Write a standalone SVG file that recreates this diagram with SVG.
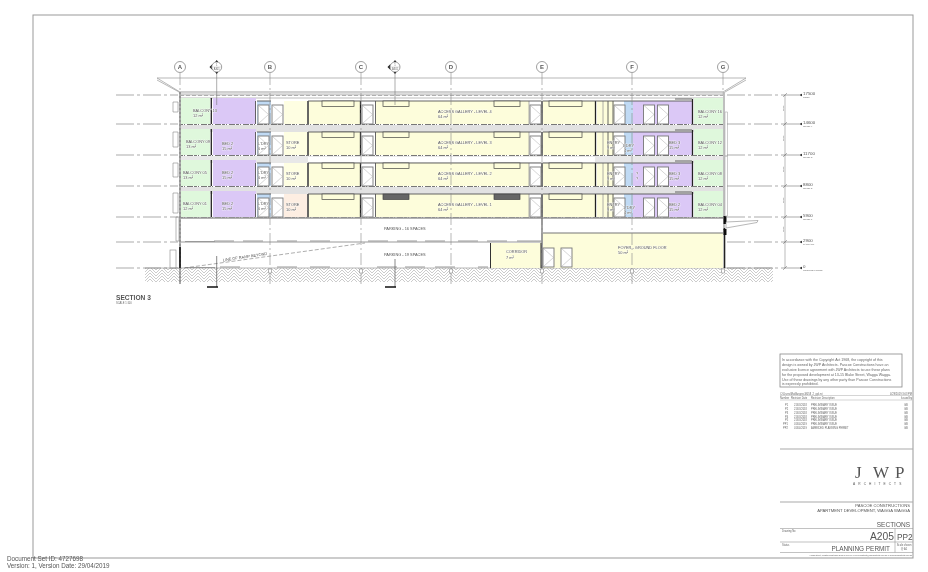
<svg xmlns="http://www.w3.org/2000/svg" xmlns:xlink="http://www.w3.org/1999/xlink" width="928" height="572" viewBox="0 0 928 572">
<style>
text{font-family:"Liberation Sans",Arial,sans-serif;fill:#555}
svg>g{filter:url(#soft)}
.r{font-size:3.9px;paint-order:stroke;stroke:#fff;stroke-width:.7px;stroke-opacity:.8}
.t{font-size:3.6px;fill:#666}
.s{font-size:2.6px;fill:#666}
.lv{font-size:4.4px;fill:#555}
.lv2{font-size:2.4px;fill:#666}
.ax{font-size:6px;font-weight:bold;text-anchor:middle;fill:#555}
.g{fill:#dff8dc}.p{fill:#dbc8f6}.y{fill:#fdfddb}.b{fill:#c0daf4}
.dr{fill:#fff;stroke:#777;stroke-width:.9}
.dx{fill:none;stroke:#aaa;stroke-width:.5}
.w{stroke:#555;stroke-width:.9;fill:none}
.wk{stroke:#222;stroke-width:1.3;fill:none}
.wl{stroke:#999;stroke-width:.8;fill:none}
.dd{stroke:#888;stroke-width:.7;fill:none;stroke-dasharray:18 3 3 3}
.gr{stroke:#888;stroke-width:.6;fill:none;stroke-dasharray:12 3 2 3}
.ln{stroke:#aaa;stroke-width:1.2;fill:none}
.win{fill:#fdfddb;stroke:#444;stroke-width:.7}
.windk{fill:#666;stroke:#444;stroke-width:.7}
.bub{fill:#fff;stroke:#777;stroke-width:.7}
.ar{fill:#333}
</style>
<defs>
<filter id="soft" x="0" y="0" width="100%" height="100%" filterUnits="userSpaceOnUse" primitiveUnits="userSpaceOnUse"><feGaussianBlur stdDeviation=".3"/></filter>
<pattern id="hatch" width="12" height="6" patternUnits="userSpaceOnUse">
<path d="M0 3L3 0M0 6L6 0M3 6L6 3M6 0L12 6M9 0L12 3M6 3L9 6" stroke="#aaa" stroke-width=".6" fill="none"/>
</pattern>
<g id="door"><rect class="dr" x="0" y="0" width="11" height="19"/><path class="dx" d="M.5 .5L10.5 9.5L.5 18.5"/></g>
<g id="level">
<rect class="g" x="181" y="98" width="29" height="26"/>
<rect class="p" x="213" y="98" width="43" height="26"/>
<rect class="b" x="257" y="101" width="14" height="23"/>
<rect class="y" x="308" y="101" width="53" height="23"/>
<rect class="y" x="376" y="101" width="153" height="23"/>
<rect class="y" x="543" y="101" width="52" height="23"/>
<rect class="y" x="597" y="101" width="17" height="23"/>
<rect class="b" x="624" y="101" width="9" height="23"/>
<rect class="p" x="633" y="101" width="59" height="23"/>
<rect class="g" x="694" y="98" width="29" height="26"/>
<path class="wk" d="M211.300 98V124M360.500 101V124M542 101V124M595.500 101V124M692.500 99V124"/>
<path class="w" d="M255.500 101V124M307.500 101V124M308.500 101V124M375.500 101V124M608 101V124M613 101V124"/>
<path class="wl" d="M529 101V124M603 101V124"/>
<path class="w" d="M308 101H541M543 101H692M257 101H271"/>
<use xlink:href="#door" x="258" y="105"/>
<use xlink:href="#door" x="272" y="105"/>
<use xlink:href="#door" x="362" y="105"/>
<use xlink:href="#door" x="530" y="105"/>
<use xlink:href="#door" x="614" y="105"/>
<use xlink:href="#door" x="643.500" y="105"/>
<use xlink:href="#door" x="657.500" y="105"/>
<rect class="win" x="322" y="101" width="32" height="5.500"/>
<rect class="win" x="549" y="101" width="33" height="5.500"/>
<path d="M675 99H692" class="w"/>
<path d="M180 124.500H723" stroke="#777" stroke-width="1" stroke-dasharray="3 1 1 2 6 1" fill="none"/>
</g>
</defs>

<rect x="33" y="15" width="880" height="543" fill="#fff" stroke="#999" stroke-width="1"/>

<g id="ground">
<rect x="145" y="268" width="628" height="14" fill="url(#hatch)"/>
<path d="M145 268H773" stroke="#888" stroke-width=".6"/>
</g>

<g id="roof">
<path d="M157 78H746L723 92H180Z" fill="#fff" stroke="#999" stroke-width=".7"/>
<path d="M157 80L179 92M746 80L725 92" stroke="#999" stroke-width=".7" fill="none"/>
<rect x="180" y="92" width="543" height="3" fill="#ddd" stroke="#aaa" stroke-width=".5"/>
<path d="M180 95.500H723" stroke="#888" stroke-width=".6" stroke-dasharray="4 2"/>
<path d="M180 98H723" stroke="#aaa" stroke-width=".8"/>
</g>

<g id="slabs">
<rect x="181" y="125" width="542" height="7" fill="#e2e2e2"/>
<rect x="181" y="156" width="542" height="7" fill="#e8e8e8"/>
<rect x="308" y="157" width="287" height="5" fill="#fff"/>
<rect x="181" y="187" width="542" height="7" fill="#e2e2e2"/>
</g>

<g id="levels">
<use xlink:href="#level"/>
<use xlink:href="#level" y="31"/>
<use xlink:href="#level" y="62"/>
<use xlink:href="#level" y="93"/>
<rect x="284" y="101" width="23" height="23" fill="#fefee2"/>
<rect x="284" y="132" width="23" height="23" fill="#fefee2"/>
<rect x="284" y="163" width="23" height="23" fill="#fefee2"/>
<rect x="284" y="194" width="23" height="23" fill="#fdeee2"/>
<rect x="383" y="194" width="26" height="5.500" class="windk"/>
<rect x="494" y="194" width="26" height="5.500" class="windk"/>
<rect x="383" y="101" width="26" height="5.500" class="win"/>
<rect x="494" y="101" width="26" height="5.500" class="win"/>
<rect x="383" y="132" width="26" height="5.500" class="win"/>
<rect x="494" y="132" width="26" height="5.500" class="win"/>
<rect x="383" y="163" width="26" height="5.500" class="win"/>
<rect x="494" y="163" width="26" height="5.500" class="win"/>
<path d="M180 218H723" stroke="#999" stroke-width="1.500"/>
</g>

<g id="lower">
<rect x="543" y="233" width="180" height="35" class="y"/>
<rect x="491" y="243" width="50" height="25" class="y"/>
<path d="M543 233H723" stroke="#777" stroke-width="1.200"/>
<path d="M181 242H541" stroke="#999" stroke-width="1.200"/>
<path d="M542 218V268" stroke="#666" stroke-width="1.200"/>
<path d="M490.500 243V268" stroke="#333" stroke-width="1"/>
<path d="M541 243V268" stroke="#222" stroke-width="1"/>
<path d="M185 241.500h30M214 241h20M243 241h20M277 241h20M310 241h20M368 241h20M397 241h20M425 241h20M458 241h20M487 241h20M517 241h24M185 267.500h30M220 267h20M277 267h20M310 267h20M377 267h20M405 267h20M435 267h20M478 267h10" stroke="#999" stroke-width="1.200" fill="none"/>
<use xlink:href="#door" x="543" y="248"/>
<use xlink:href="#door" x="561" y="248"/>
<path d="M184 268L365 243" stroke="#777" stroke-width=".6" stroke-dasharray="4 2" fill="none"/>
<path d="M180 92V284" stroke="#aaa" stroke-width="2"/>
<path d="M180 92V284" stroke="#666" stroke-width=".6" stroke-dasharray="2 2"/>
<path d="M180 247V268" stroke="#111" stroke-width="1.600"/>
<path d="M724 92V230" stroke="#aaa" stroke-width="1.500"/>
<path d="M724.500 228V268" stroke="#222" stroke-width="1.600"/>
<path d="M725 216V224M725 229V235" stroke="#111" stroke-width="3"/>
<path d="M726 222L758 220.500L757 222.500L726 228Z" fill="#fff" stroke="#888" stroke-width=".6"/>
<rect x="170" y="250" width="6" height="18" fill="#fff" stroke="#888" stroke-width=".6"/>
<path d="M173 102h5v10h-5zM173 132h5v15h-5zM173 163h5v14h-5zM173 193h5v20h-5zM176 217h3v24h-3z" fill="#fff" stroke="#888" stroke-width=".6"/>
<path d="M725 112h2.500v44h-2.500zM725 156h2.500v60h-2.500z" fill="#fff" stroke="#aaa" stroke-width=".6"/>
</g>

<g id="levelLines">
<path class="dd" d="M116 95H178M116 124H178M116 155H178M116 186H178M116 217H178M116 242H178M116 268H178"/>
<path class="dd" d="M727 95H800M727 124H800M727 155H800M727 186H800M727 217H800M727 242H800M727 268H800"/>
<path d="M785 95V268" stroke="#777" stroke-width=".5"/>
<path d="M783 97l4-4M783 126l4-4M783 157l4-4M783 188l4-4M783 219l4-4M783 244l4-4M783 270l4-4" stroke="#444" stroke-width=".4"/>
<g class="ar">
<path d="M800 95l3-1.300v2.600zM800 124l3-1.300v2.600zM800 155l3-1.300v2.600zM800 186l3-1.300v2.600zM800 217l3-1.300v2.600zM800 242l3-1.300v2.600zM800 268l3-1.300v2.600z" transform="translate(-1 0)"/>
</g>
<text class="lv" x="803" y="95">17500</text><text class="lv2" x="803" y="98">ROOF</text>
<text class="lv" x="803" y="124">14600</text><text class="lv2" x="803" y="127">LEVEL 4</text>
<text class="lv" x="803" y="155">11700</text><text class="lv2" x="803" y="158">LEVEL 3</text>
<text class="lv" x="803" y="186">8800</text><text class="lv2" x="803" y="189">LEVEL 2</text>
<text class="lv" x="803" y="217">5900</text><text class="lv2" x="803" y="220">LEVEL 1</text>
<text class="lv" x="803" y="242">2900</text><text class="lv2" x="803" y="245">CARPARK</text>
<text class="lv" x="803" y="268">0</text><text class="lv2" x="803" y="271">GROUND FLOOR</text>
<text class="lv2" transform="translate(784 111) rotate(-90)">2900</text>
<text class="lv2" transform="translate(784 141) rotate(-90)">2900</text>
<text class="lv2" transform="translate(784 172) rotate(-90)">2900</text>
<text class="lv2" transform="translate(784 203) rotate(-90)">2900</text>
<text class="lv2" transform="translate(784 232) rotate(-90)">3000</text>
</g>

<g id="grids">
<path class="gr" d="M180 73V92M270 73V284M361 73V284M451 73V284M542 73V284M632 73V284M723 73V92"/>
<path d="M268.500 269h3v4h-3zM359.500 269h3v4h-3zM449.500 269h3v4h-3zM540.500 269h3v4h-3zM630.500 269h3v4h-3zM721.500 269h3v4h-3z" fill="#fff" stroke="#777" stroke-width=".5"/>
<g id="gridA"><circle class="bub" cx="180" cy="67" r="5.500"/><text class="ax" x="180" y="69.200">A</text></g>
<g id="gridB"><circle class="bub" cx="270" cy="67" r="5.500"/><text class="ax" x="270" y="69.200">B</text></g>
<g id="gridC"><circle class="bub" cx="361" cy="67" r="5.500"/><text class="ax" x="361" y="69.200">C</text></g>
<g id="gridD"><circle class="bub" cx="451" cy="67" r="5.500"/><text class="ax" x="451" y="69.200">D</text></g>
<g id="gridE"><circle class="bub" cx="542" cy="67" r="5.500"/><text class="ax" x="542" y="69.200">E</text></g>
<g id="gridF"><circle class="bub" cx="632" cy="67" r="5.500"/><text class="ax" x="632" y="69.200">F</text></g>
<g id="gridG"><circle class="bub" cx="723" cy="67" r="5.500"/><text class="ax" x="723" y="69.200">G</text></g>
</g>

<g id="sectionMarks">
<path d="M216.700 73V105M395 73V105" stroke="#777" stroke-width=".6"/>
<g id="mark1"><path d="M209.500 67l3-3v6zM216.700 60l1.500 2h-3zM216.700 74l1.500-2h-3z" fill="#222"/><circle class="bub" cx="216.700" cy="67" r="5"/><path d="M212 67H221.500" stroke="#999" stroke-width=".3"/><text class="s" x="216.700" y="65.500" text-anchor="middle">1</text><text class="s" x="216.700" y="70" text-anchor="middle">A301</text></g>
<g id="mark2"><path d="M387.500 67l3-3v6zM395 60l1.500 2h-3zM395 74l1.500-2h-3z" fill="#222"/><circle class="bub" cx="395" cy="67" r="5"/><path d="M390 67H400" stroke="#999" stroke-width=".3"/><text class="s" x="395" y="65.500" text-anchor="middle">1</text><text class="s" x="395" y="70" text-anchor="middle">A301</text></g>
<path d="M216.700 256V287M395 259V287" stroke="#555" stroke-width=".7"/>
<path d="M207 287H218M385 287H396" stroke="#111" stroke-width="1.500"/>
</g>

<g id="labels">
<text class="r" x="193" y="112">BALCONY 13</text><text class="r" x="193" y="117">12 m²</text>
<text class="r" x="186" y="143">BALCONY 09</text><text class="r" x="186" y="148">13 m²</text>
<text class="r" x="183" y="174">BALCONY 05</text><text class="r" x="183" y="179">13 m²</text>
<text class="r" x="183" y="205">BALCONY 01</text><text class="r" x="183" y="210">12 m²</text>
<text class="r" x="222" y="145">BED 2</text><text class="r" x="222" y="150">15 m²</text>
<text class="r" x="222" y="174">BED 2</text><text class="r" x="222" y="179">15 m²</text>
<text class="r" x="222" y="205">BED 2</text><text class="r" x="222" y="210">15 m²</text>
<text class="r" x="258" y="145">L'DRY</text><text class="r" x="258" y="150">6 m²</text>
<text class="r" x="258" y="174">L'DRY</text><text class="r" x="258" y="179">6 m²</text>
<text class="r" x="258" y="205">L'DRY</text><text class="r" x="258" y="210">6 m²</text>
<text class="r" x="286" y="144">STORE</text><text class="r" x="286" y="149">10 m²</text>
<text class="r" x="286" y="175">STORE</text><text class="r" x="286" y="180">10 m²</text>
<text class="r" x="286" y="206">STORE</text><text class="r" x="286" y="211">10 m²</text>
<text class="r" x="438" y="113">ACCESS GALLERY - LEVEL 4</text><text class="r" x="438" y="118">64 m²</text>
<text class="r" x="438" y="144">ACCESS GALLERY - LEVEL 3</text><text class="r" x="438" y="149">64 m²</text>
<text class="r" x="438" y="175">ACCESS GALLERY - LEVEL 2</text><text class="r" x="438" y="180">64 m²</text>
<text class="r" x="438" y="206">ACCESS GALLERY - LEVEL 1</text><text class="r" x="438" y="211">64 m²</text>
<text class="r" x="607" y="144">ENTRY</text><text class="r" x="607" y="149">9 m²</text>
<text class="r" x="607" y="175">ENTRY</text><text class="r" x="607" y="180">9 m²</text>
<text class="r" x="607" y="206">ENTRY</text><text class="r" x="607" y="211">9 m²</text>
<text class="r" x="623" y="147">L'DRY</text><text class="r" x="624" y="152">4 m²</text>
<text class="r" x="636" y="175">?</text><text class="r" x="636" y="180">?</text>
<text class="r" x="624" y="209">L'DRY</text><text class="r" x="624" y="214">4 m²</text>
<text class="r" x="669" y="144">BED 3</text><text class="r" x="669" y="149">15 m²</text>
<text class="r" x="669" y="175">BED 3</text><text class="r" x="669" y="180">15 m²</text>
<text class="r" x="669" y="206">BED 2</text><text class="r" x="669" y="211">15 m²</text>
<text class="r" x="698" y="113">BALCONY 16</text><text class="r" x="698" y="118">12 m²</text>
<text class="r" x="698" y="144">BALCONY 12</text><text class="r" x="698" y="149">12 m²</text>
<text class="r" x="698" y="175">BALCONY 08</text><text class="r" x="698" y="180">12 m²</text>
<text class="r" x="698" y="206">BALCONY 04</text><text class="r" x="698" y="211">12 m²</text>
<text class="r" x="384" y="230">PARKING - 16 SPACES</text>
<text class="r" x="384" y="255.500">PARKING - 19 SPACES</text>
<text class="r" x="506" y="253">CORRIDOR</text><text class="r" x="506" y="258.500">7 m²</text>
<text class="r" x="618" y="249">FOYER - GROUND FLOOR</text><text class="r" x="618" y="254">50 m²</text>
<text class="r" transform="translate(223 261.500) rotate(-8.500)">LINE OF RAMP BEYOND</text>
<text x="116" y="300" font-size="6.600" font-weight="bold" fill="#444">SECTION 3</text>
<text class="s" x="116" y="303.500">SCALE 1:100</text>
</g>

<g id="titleBlock">
<rect x="780" y="354" width="122" height="33" fill="#fff" stroke="#888" stroke-width=".8"/>
<text class="t" x="782" y="360.500">In accordance with the Copyright Act 1968, the copyright of this</text>
<text class="t" x="782" y="365.500">design is owned by JWP Architects. Pascoe Constructions have an</text>
<text class="t" x="782" y="370.500">exclusive licence agreement with JWP Architects to use these plans</text>
<text class="t" x="782" y="375.500">for the proposed development at 13-15 Blake Street, Wagga Wagga.</text>
<text class="t" x="782" y="380.500">Use of these drawings by any other party than Pascoe Constructions</text>
<text class="t" x="782" y="385">is expressly prohibited.</text>
<text class="s" x="780" y="394.500">C:\Users\MatBurgess\8058_2_gpl.rvt</text>
<text class="s" x="912" y="394.500" text-anchor="end">4/29/2019 3:03 PM</text>
<path d="M780 395.500H912M780 400H912" stroke="#aaa" stroke-width=".5" fill="none"/>
<text class="s" x="780" y="399">Number</text><text class="s" x="791" y="399">Revision Date</text><text class="s" x="811" y="399">Revision Description</text><text class="s" x="912" y="399" text-anchor="end">Issued by</text>
<g id="revRows">
<text class="s" x="785" y="406">P1</text><text class="s" x="794" y="406">21/03/2018</text><text class="s" x="811" y="406">PRELIMINARY ISSUE</text><text class="s" x="904" y="406">GB</text>
<text class="s" x="785" y="409.500">P2</text><text class="s" x="794" y="409.500">21/03/2018</text><text class="s" x="811" y="409.500">PRELIMINARY ISSUE</text><text class="s" x="904" y="409.500">GB</text>
<text class="s" x="785" y="413.500">P3</text><text class="s" x="794" y="413.500">21/03/2018</text><text class="s" x="811" y="413.500">PRELIMINARY ISSUE</text><text class="s" x="904" y="413.500">GB</text>
<text class="s" x="785" y="417.500">P4</text><text class="s" x="794" y="417.500">21/03/2018</text><text class="s" x="811" y="417.500">PRELIMINARY ISSUE</text><text class="s" x="904" y="417.500">GB</text>
<text class="s" x="785" y="421">P5</text><text class="s" x="794" y="421">21/03/2018</text><text class="s" x="811" y="421">PRELIMINARY ISSUE</text><text class="s" x="904" y="421">GB</text>
<text class="s" x="783" y="425">PP1</text><text class="s" x="794" y="425">01/04/2019</text><text class="s" x="811" y="425">PRELIMINARY ISSUE</text><text class="s" x="904" y="425">GB</text>
<text class="s" x="783" y="429">PP2</text><text class="s" x="794" y="429">01/04/2019</text><text class="s" x="811" y="429">AMENDED PLANNING PERMIT</text><text class="s" x="904" y="429">GB</text>
</g>
<path class="ln" d="M780 449H913M780 502H913"/>
<g id="logo">
<text x="855" y="478" font-size="17" style="font-family:'Liberation Serif',serif" fill="#333">J</text>
<text x="873" y="478" font-size="17" style="font-family:'Liberation Serif',serif" fill="#bbb">W</text>
<text x="895" y="478" font-size="17" style="font-family:'Liberation Serif',serif" fill="#333">P</text>
<text x="853" y="485" font-size="3.200" letter-spacing="3.100" fill="#555">ARCHITECTS</text>
</g>
<text x="910" y="506.500" font-size="4.200" text-anchor="end">PASCOE CONSTRUCTIONS</text>
<text x="910" y="511.500" font-size="4.200" text-anchor="end">APARTMENT DEVELOPMENT, WAGGA WAGGA</text>
<text x="910" y="527" font-size="6.500" text-anchor="end" fill="#333">SECTIONS</text>
<path d="M780 528.500H913M780 542H913M780 552.500H913M895 528.500V552.500" stroke="#999" stroke-width=".6" fill="none"/>
<text class="s" x="782" y="532">Drawing No</text>
<text x="894" y="540" font-size="10.300" text-anchor="end" fill="#444">A205</text>
<text x="897" y="540" font-size="8.300" fill="#444">PP2</text>
<text class="s" x="782" y="546">Status</text>
<text x="890" y="551" font-size="6.400" text-anchor="end" fill="#333">PLANNING PERMIT</text>
<text class="s" x="904" y="546" text-anchor="middle">Scale shown</text>
<text class="s" x="904" y="549.500" text-anchor="middle">@ A1</text>
<text x="912" y="556" font-size="1.900" text-anchor="end" fill="#555">7 John Street, Wollstonecraft NSW 2065 T 02 9999 9999 E architects@jwparchitects.com.au W www.jwparchitects.com.au</text>
</g>

<g id="docInfo">
<text x="7" y="561" font-size="6.300" fill="#777">Document Set ID: 4727698</text>
<text x="7" y="567.500" font-size="6.300" fill="#777">Version: 1, Version Date: 29/04/2019</text>
</g>
</svg>
